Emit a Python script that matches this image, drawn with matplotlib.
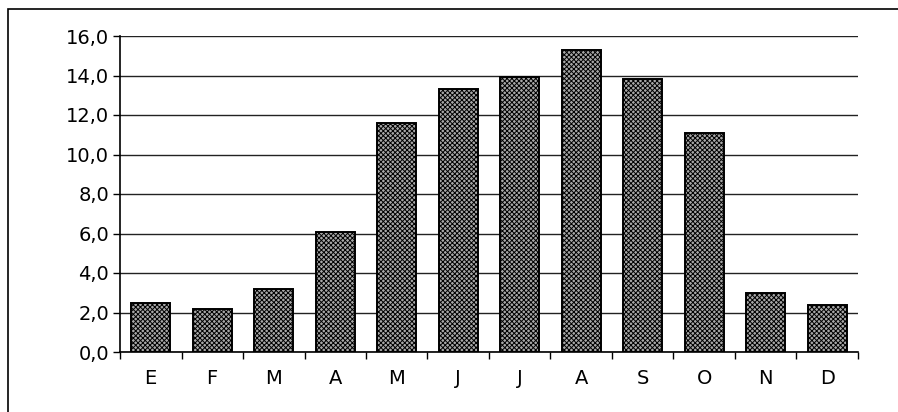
import matplotlib
matplotlib.use("Agg")
import matplotlib.pyplot as plt
from matplotlib.patches import Rectangle
import numpy as np

# monthly values
months = ["E", "F", "M", "A", "M", "J", "J", "A", "S", "O", "N", "D"]
values = [2.5, 2.2, 3.2, 6.1, 11.6, 13.3, 13.9, 15.3, 13.8, 11.1, 3.0, 2.4]
yticks = [0, 2, 4, 6, 8, 10, 12, 14, 16]

plt.rcParams['hatch.color'] = '#303030'
plt.rcParams['hatch.linewidth'] = 0.7

W, H = 898, 412
fig = plt.figure(figsize=(W / 100, H / 100), dpi=100)
ax = fig.add_axes([120 / W, 1 - 352 / H, 738 / W, 316 / H])

x = np.arange(len(months))
ax.bar(x, values, width=0.63, color='#a8a8a8', edgecolor='black',
       linewidth=1.4, hatch='xxxxxxx', zorder=3)

ax.set_xlim(-0.5, len(months) - 0.5)
ax.set_ylim(0, 16)
ax.set_yticks(yticks)
ax.set_yticklabels([f"{v:.1f}".replace('.', ',') for v in yticks], fontsize=14)
ax.yaxis.grid(True, color='#222222', linewidth=1.0, zorder=0)

# category labels centred, ticks between categories
ax.set_xticks(x)
ax.set_xticklabels(months, fontsize=14)
ax.tick_params(axis='x', length=0, pad=12)
ax.set_xticks(np.arange(-0.5, len(months)), minor=True)
ax.tick_params(axis='x', which='minor', length=5, width=1, color='black')
ax.tick_params(axis='y', length=5, width=1, pad=3)

for s in ['top', 'right']:
    ax.spines[s].set_visible(False)
ax.spines['left'].set_linewidth(1.2)
ax.spines['bottom'].set_linewidth(1.2)

# outer frame of the figure
fig.patches.append(Rectangle((8 / W, -0.1), 1.2, 1.1 - 9 / H, transform=fig.transFigure,
                             fill=False, edgecolor='black', linewidth=1.2))

fig.savefig("out.png", dpi=100)
